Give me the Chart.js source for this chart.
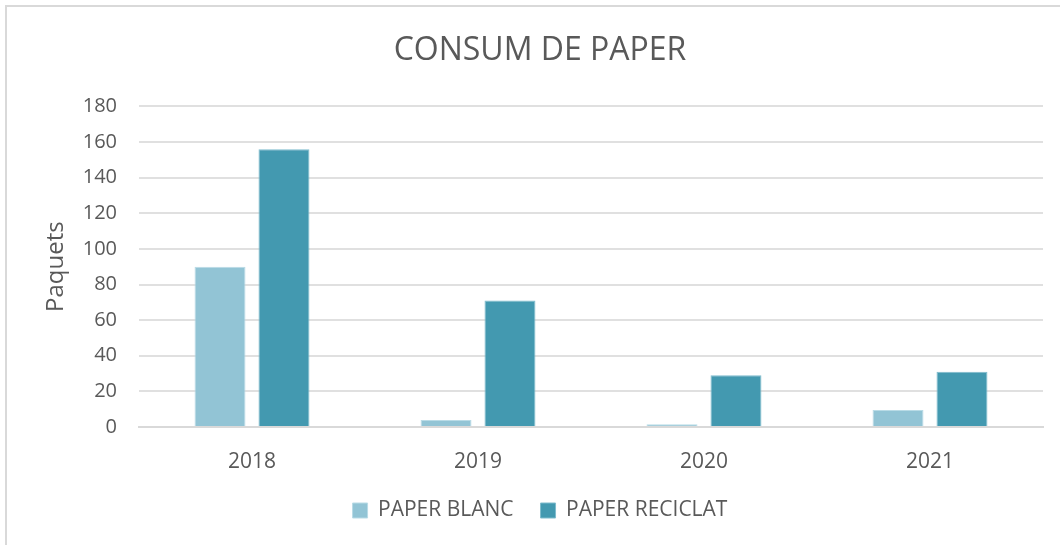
<!DOCTYPE html>
<html>
<head>
<meta charset="utf-8">
<script src="https://cdn.jsdelivr.net/npm/chart.js@4.4.1/dist/chart.umd.min.js"></script>
<style>
  body { margin: 0; background: #fff; overflow: hidden; }
  #wrap {
    position: absolute; left: 5px; top: 5px;
    width: 1058px; height: 540px;
    border: 2px solid #d9d9d9; border-bottom: none;
    box-sizing: border-box;
  }
</style>
</head>
<body>
<div id="wrap"><canvas id="chart"></canvas></div>
<script>
const years = ["2018", "2019", "2020", "2021"];
const paperBlanc = [90, 4, 1.5, 9.5];
const paperReciclat = [156, 71, 29, 31];
const yTicks = [0, 20, 40, 60, 80, 100, 120, 140, 160, 180];

const textColor = "#595959";
const gridColor = "#d9d9d9";
const font = "'Open Sans', 'Liberation Sans', sans-serif";

const ctx = document.getElementById("chart").getContext("2d");
new Chart(ctx, {
  type: "bar",
  data: {
    labels: years,
    datasets: [
      {
        label: "PAPER BLANC",
        data: paperBlanc,
        backgroundColor: "#92c4d5",
        borderColor: "#b9dbe6",
        borderWidth: 1,
        categoryPercentage: 0.566,
        barPercentage: 0.797,
      },
      {
        label: "PAPER RECICLAT",
        data: paperReciclat,
        backgroundColor: "#4399b0",
        borderColor: "#7fbccd",
        borderWidth: 1,
        categoryPercentage: 0.566,
        barPercentage: 0.797,
      },
    ],
  },
  options: {
    responsive: true,
    maintainAspectRatio: false,
    animation: false,
    layout: { padding: { left: 30, right: 18, top: 25, bottom: 14 } },
    plugins: {
      title: {
        display: true,
        text: "CONSUM DE PAPER",
        color: textColor,
        font: { family: font, size: 32, weight: "normal" },
        padding: { top: 0, bottom: 36 },
      },
      legend: {
        position: "bottom",
        labels: {
          color: textColor,
          font: { family: font, size: 21 },
          boxWidth: 15,
          boxHeight: 15,
          padding: 27,
        },
      },
      tooltip: { enabled: false },
    },
    scales: {
      x: {
        afterFit: (axis) => {
          axis.height = 46;
        },
        grid: { display: false, drawTicks: false },
        border: { color: gridColor, width: 2 },
        ticks: { color: textColor, font: { family: font, size: 21 }, padding: 22 },
      },
      y: {
        min: 0,
        max: 180,
        afterBuildTicks: (axis) => {
          axis.ticks = yTicks.map((v) => ({ value: v }));
        },
        afterFit: (axis) => {
          axis.width = 102; // plot area starts at 132px inside the canvas
        },
        grid: { color: "#e0e0e0", lineWidth: 2, drawTicks: false },
        border: { display: false },
        ticks: { color: textColor, font: { family: font, size: 20 }, padding: 22 },
        title: {
          display: true,
          text: "Paquets",
          color: textColor,
          font: { family: font, size: 24 },
          padding: { top: 5, bottom: 0 },
        },
      },
    },
  },
});
</script>
</body>
</html>
